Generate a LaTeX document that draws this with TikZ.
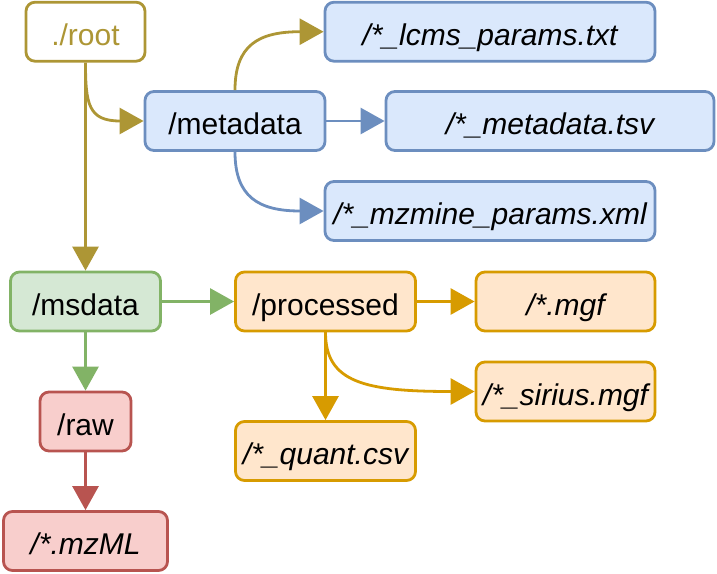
\documentclass[tikz,border=0pt]{standalone}
\usepackage{fontspec}
\setmainfont{Liberation Sans}
\usetikzlibrary{arrows.meta}
\definecolor{rootc}{HTML}{AD9635}
\definecolor{bluefill}{HTML}{DAE8FC}
\definecolor{bluedraw}{HTML}{6C8EBF}
\definecolor{greenfill}{HTML}{D5E8D4}
\definecolor{greendraw}{HTML}{82B366}
\definecolor{redfill}{HTML}{F8CECC}
\definecolor{reddraw}{HTML}{B85450}
\definecolor{orangefill}{HTML}{FFE6CC}
\definecolor{orangedraw}{HTML}{D79B00}
\begin{document}
\begin{tikzpicture}[x=1pt,y=-1pt,
  box/.style={draw, rounded corners=9pt, line width=2.8pt, minimum height=59pt, inner sep=0pt, text height=27pt, text depth=0pt, text=black, font=\fontsize{30}{36}\selectfont},
  bluebox/.style={box, draw=bluedraw, fill=bluefill},
  greenbox/.style={box, draw=greendraw, fill=greenfill},
  redbox/.style={box, draw=reddraw, fill=redfill},
  orangebox/.style={box, draw=orangedraw, fill=orangefill},
  arr/.style={line width=2.8pt, -{Triangle[length=24pt,width=26pt]}}]
\useasboundingbox (0,0) rectangle (717,573);
\node[box, draw=rootc, text=rootc, fill=white, minimum width=119pt] (root) at (85.5,31.7) {./root};
\node[bluebox, minimum width=180pt] (meta) at (235,121) {/metadata};
\node[bluebox, minimum width=330pt] (lcms) at (490,31.7) {\itshape /*\_lcms\_params.txt};
\node[bluebox, minimum width=328pt] (tsv) at (550,121) {\itshape /*\_metadata.tsv};
\node[bluebox, minimum width=330pt] (mzmine) at (490,211) {\itshape /*\_mzmine\_params.xml};
\node[greenbox, minimum width=150pt] (msdata) at (85.5,301.5) {/msdata};
\node[orangebox, minimum width=180pt] (proc) at (325.5,301.5) {/processed};
\node[orangebox, minimum width=179pt] (mgf) at (565.5,301.5) {\itshape /*.mgf};
\node[orangebox, minimum width=179pt] (sirius) at (565.5,391.5) {\itshape /*\_sirius.mgf};
\node[orangebox, minimum width=180pt] (quant) at (325.5,451) {\itshape /*\_quant.csv};
\node[redbox, minimum width=91pt] (raw) at (85.5,421.5) {/raw};
\node[redbox, minimum width=164pt] (mzml) at (85.5,541) {\itshape /*.mzML};
\draw[arr, rootc] (root.south) -- (msdata.north);
\draw[arr, rootc] (root.south) .. controls +(0,42) and +(-55,0) .. (meta.west);
\draw[arr, rootc] (meta.north) .. controls +(0,-45) and +(-65,0) .. (lcms.west);
\draw[arr, bluedraw] (meta.east) -- (tsv.west);
\draw[arr, bluedraw] (meta.south) .. controls +(0,45) and +(-65,0) .. (mzmine.west);
\draw[arr, greendraw] (msdata.east) -- (proc.west);
\draw[arr, greendraw] (msdata.south) -- (raw.north);
\draw[arr, reddraw] (raw.south) -- (mzml.north);
\draw[arr, orangedraw] (proc.east) -- (mgf.west);
\draw[arr, orangedraw] (proc.south) -- (quant.north);
\draw[arr, orangedraw] (proc.south) .. controls +(0,50) and +(-110,0) .. (sirius.west);
\end{tikzpicture}
\end{document}
